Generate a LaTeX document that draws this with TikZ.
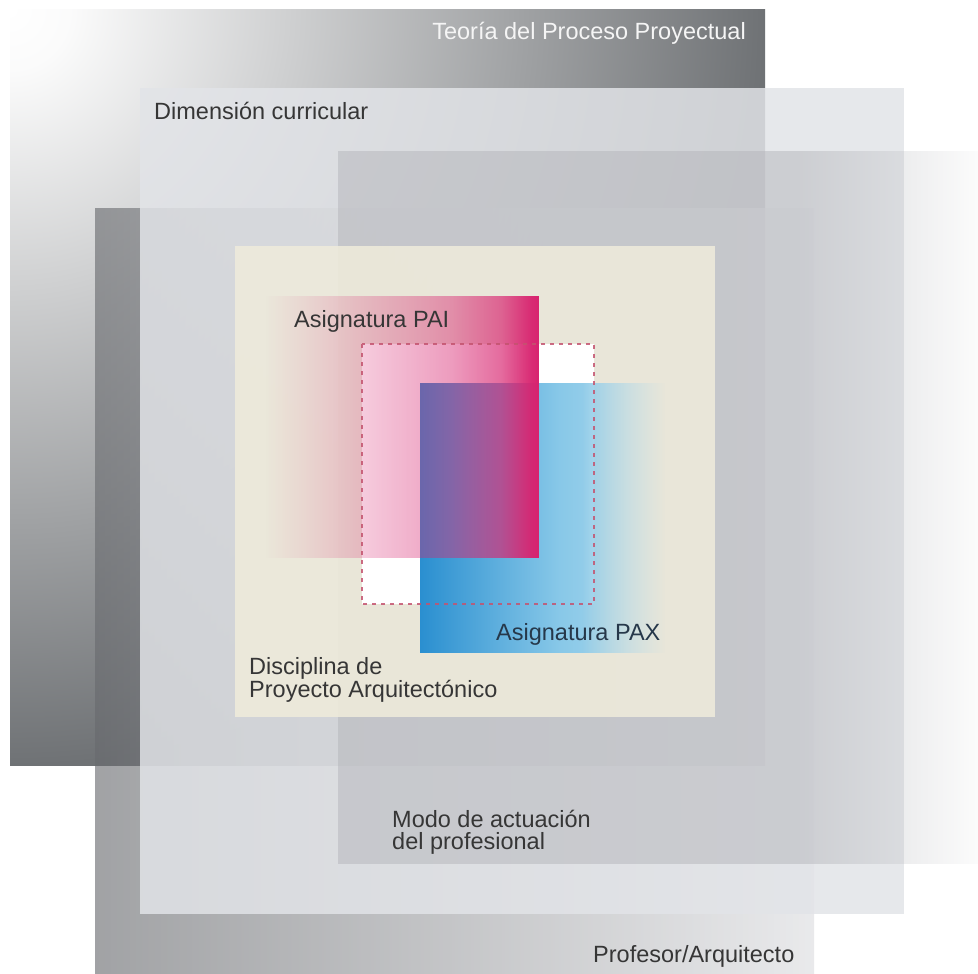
\documentclass[tikz,border=0pt]{standalone}
\usepackage{fontspec}
\setmainfont{Liberation Sans}
\usetikzlibrary{fadings}

% palette
\definecolor{teodark}{HTML}{6F7275}
\definecolor{profdark}{HTML}{686A6E}
\definecolor{proflight}{HTML}{DCDDE0}
\definecolor{dimgray}{HTML}{E2E4E8}
\definecolor{modogray}{HTML}{B4B5BA}
\definecolor{beige}{HTML}{EFEBDB}
\definecolor{paimag}{HTML}{D8236F}
\definecolor{paxA}{HTML}{2A8FD0}
\definecolor{paxB}{HTML}{88C8E8}
\definecolor{paxC}{HTML}{B4DCEC}
\definecolor{dotrose}{HTML}{C4536F}
\definecolor{labeltext}{HTML}{363636}
\definecolor{paxtext}{HTML}{26384A}

% TikZ fits the central 25bp--75bp part of a 100bp shading or fading
% onto the bounding box of the path, so the stops below use that range.

% outer square: light corner at the top left, darkening outwards
\pgfdeclareradialshading{teoshade}{\pgfpoint{0bp}{0bp}}{%
  color(0bp)=(white); color(2bp)=(white!97!teodark);
  color(25bp)=(teodark); color(50bp)=(teodark)}
% teacher square: dark on the left, light on the right
\pgfdeclarehorizontalshading{profshade}{100bp}{%
  color(0bp)=(profdark); color(25bp)=(profdark);
  color(75bp)=(proflight); color(100bp)=(proflight)}
% blue subject square colours
\pgfdeclarehorizontalshading{paxshade}{100bp}{%
  color(0bp)=(paxA); color(25bp)=(paxA); color(53.5bp)=(paxB);
  color(75bp)=(paxC); color(100bp)=(paxC)}

% fadings (white = opaque, black = transparent)
\pgfdeclarehorizontalshading{modofadeshade}{100bp}{%
  color(0bp)=(white); color(61bp)=(white); color(75bp)=(black!92);
  color(100bp)=(black!92)}
\pgfdeclarefading{modofade}{\pgfuseshading{modofadeshade}}
\pgfdeclarehorizontalshading{paifadeshade}{100bp}{%
  color(0bp)=(black); color(25bp)=(black); color(31.5bp)=(black!92);
  color(44bp)=(black!75); color(54bp)=(black!62); color(59bp)=(black!55);
  color(68bp)=(black!33); color(73.5bp)=(black!4); color(75bp)=(white);
  color(100bp)=(white)}
\pgfdeclarefading{paifade}{\pgfuseshading{paifadeshade}}
\pgfdeclarehorizontalshading{paxfadeshade}{100bp}{%
  color(0bp)=(white); color(58bp)=(white); color(75bp)=(black);
  color(100bp)=(black)}
\pgfdeclarefading{paxfade}{\pgfuseshading{paxfadeshade}}

\tikzset{
  lbl/.style={inner sep=0pt, text=labeltext,
    font=\fontsize{23.5}{23}\selectfont},
  lblwhite/.style={lbl, text=white!96!black},
}

\begin{document}
\begin{tikzpicture}[x=1pt, y=-1pt]
  \useasboundingbox (0,0) rectangle (978,974);
  \fill[white] (0,0) rectangle (978,974);

  % Teoria del Proceso Proyectual
  \begin{scope}
    \clip (10,10) rectangle (765,767);
    \shade[shading=teoshade] (-745,-745) rectangle (765,765);
  \end{scope}

  % Profesor/Arquitecto
  \shade[shading=profshade, opacity=0.62] (95,208) rectangle (814,974);

  % Dimension curricular
  \fill[dimgray, opacity=0.84] (140,88) rectangle (904,914);

  % Modo de actuacion del profesional
  \fill[modogray, opacity=0.5, path fading=modofade] (338,151) rectangle (978,864);

  % Disciplina de Proyecto Arquitectonico
  \fill[beige, opacity=0.88] (235,246) rectangle (715,717);

  % common ground of both subjects
  \fill[white] (362,344) rectangle (594,604);

  % Asignatura PAX
  \shade[shading=paxshade, path fading=paxfade] (420,383) rectangle (665,652);

  % Asignatura PAI
  \fill[paimag, path fading=paifade] (265,296) rectangle (539,558);

  % dotted outline of the common ground
  \draw[dotrose, opacity=0.85, line width=2.4pt, dash pattern=on 4pt off 5pt]
    (362,344) rectangle (594,604);

  % labels (base anchor of a two-line label sits on its last line)
  \node[lblwhite, anchor=base east] (teoria) at (746,40) {Teoría del Proceso Proyectual};
  \node[lbl, anchor=base west] (dimension) at (154,120) {Dimensión curricular};
  \node[lbl, anchor=base west] (pai) at (294,327) {Asignatura PAI};
  \node[lbl, text=paxtext, anchor=base west] (pax) at (496,640) {Asignatura PAX};
  \node[lbl, anchor=base west, align=left] (disciplina) at (249,697)
    {Disciplina de\\Proyecto Arquitectónico};
  \node[lbl, anchor=base west, align=left, font=\fontsize{23.5}{22}\selectfont] (modo) at (392,849)
    {Modo de actuación\\del profesional};
  \node[lbl, anchor=base west] (profesor) at (593,962) {Profesor/Arquitecto};
\end{tikzpicture}
\end{document}
